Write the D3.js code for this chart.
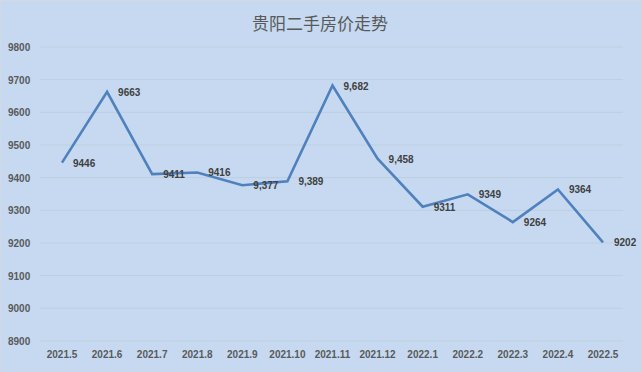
<!DOCTYPE html>
<html>
<head>
<meta charset="utf-8">
<script src="https://cdn.jsdelivr.net/npm/d3@7"></script>
<style>
  body { margin: 0; background: #c6d9f1; }
  svg { display: block; }
</style>
</head>
<body>
<svg id="chart" width="641" height="372"></svg>
<script>
const months = ['2021.5', '2021.6', '2021.7', '2021.8', '2021.9', '2021.10', '2021.11', '2021.12', '2022.1', '2022.2', '2022.3', '2022.4', '2022.5']
const prices = [9446, 9663, 9411, 9416, 9377, 9389, 9682, 9458, 9311, 9349, 9264, 9364, 9202]
const priceLabels = ['9446', '9663', '9411', '9416', '9,377', '9,389', '9,682', '9,458', '9311', '9349', '9264', '9364', '9202']
const yTicks = [8900, 9000, 9100, 9200, 9300, 9400, 9500, 9600, 9700, 9800]

const svg = d3.select('#chart')

svg.append('rect')
  .attr('width', 641).attr('height', 372)
  .attr('fill', '#c6d9f1')
  .attr('stroke', '#d9d9d9').attr('stroke-width', 1)

svg.append('text')
  .attr('x', 320).attr('y', 30)
  .attr('text-anchor', 'middle')
  .attr('font-family', 'Noto Sans CJK SC')
  .attr('font-size', 17)
  .attr('fill', '#595959')
  .text('贵阳二手房价走势')

const x = d3.scalePoint().domain(months).range([62, 603])
const y = d3.scaleLinear().domain([8900, 9800]).range([341, 47])

// gridlines
svg.append('g')
  .selectAll('line')
  .data(yTicks)
  .join('line')
  .attr('x1', 40).attr('x2', 623)
  .attr('y1', (d) => y(d)).attr('y2', (d) => y(d))
  .attr('stroke', '#bccfdf').attr('stroke-width', 1)

// y axis labels
svg.append('g')
  .selectAll('text')
  .data(yTicks)
  .join('text')
  .attr('x', 8).attr('y', (d) => y(d) + 4)
  .attr('font-family', 'Liberation Sans, Arial, sans-serif')
  .attr('font-size', 10)
  .attr('font-weight', 'bold')
  .attr('fill', '#595959')
  .text((d) => d)

// x axis labels
svg.append('g')
  .selectAll('text')
  .data(months)
  .join('text')
  .attr('x', (d) => x(d)).attr('y', 358)
  .attr('text-anchor', 'middle')
  .attr('font-family', 'Liberation Sans, Arial, sans-serif')
  .attr('font-size', 10)
  .attr('font-weight', 'bold')
  .attr('fill', '#595959')
  .text((d) => d)

const line = d3.line()
  .x((d, i) => x(months[i]))
  .y((d) => y(d))

svg.append('path')
  .datum(prices)
  .attr('d', line)
  .attr('fill', 'none')
  .attr('stroke', '#4f81bd')
  .attr('stroke-width', 2.6)
  .attr('stroke-linejoin', 'miter')

// data labels, to the right of each point
svg.append('g')
  .selectAll('text')
  .data(prices)
  .join('text')
  .attr('x', (d, i) => x(months[i]) + 11)
  .attr('y', (d) => y(d) + 4)
  .attr('font-family', 'Liberation Sans, Arial, sans-serif')
  .attr('font-size', 10)
  .attr('font-weight', 'bold')
  .attr('fill', '#404040')
  .text((d, i) => priceLabels[i])
</script>
</body>
</html>
